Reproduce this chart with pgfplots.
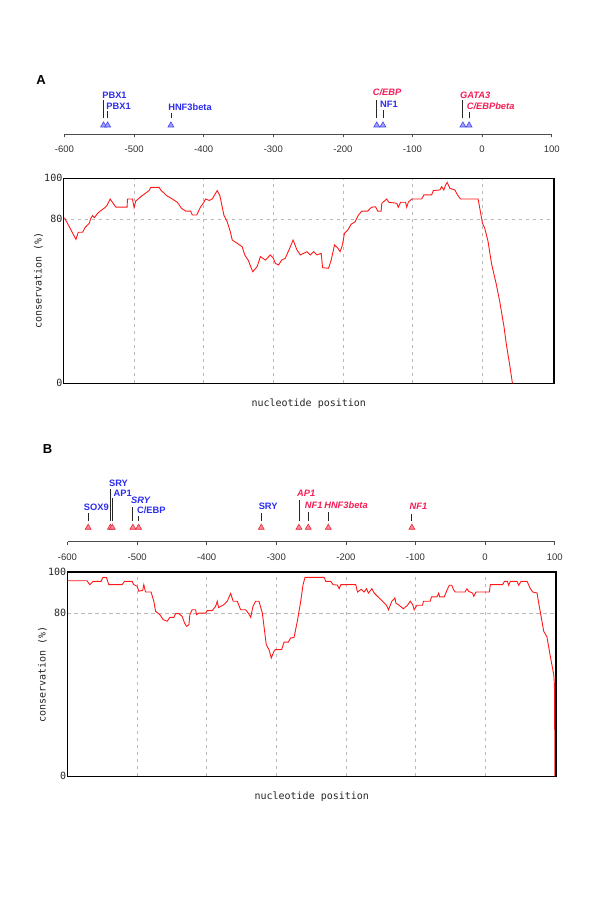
\documentclass[border=0pt]{standalone}
\usepackage{pgfplots}
\pgfplotsset{compat=1.18}
\usepackage{fontspec}
\setmainfont{Liberation Sans}
\newfontfamily\monofont{DejaVu Sans Mono}
\definecolor{ablue}{RGB}{45,45,240}
\definecolor{ared}{RGB}{245,30,85}
\definecolor{tblue}{RGB}{160,160,255}
\definecolor{tbluedraw}{RGB}{70,70,235}
\definecolor{tred}{RGB}{255,140,150}
\definecolor{treddraw}{RGB}{230,40,60}
\definecolor{curve}{RGB}{255,25,25}
\tikzset{lab/.style={anchor=base west, inner sep=0pt, font=\bfseries\fontsize{9.3}{10}\selectfont},
  labi/.style={lab, font=\bfseries\itshape\fontsize{9.3}{10}\selectfont}}
\pgfplotsset{
  annot/.style={x=0.696pt, y=1pt, xmin=-600, xmax=100, ymin=0, ymax=60,
    enlargelimits=false, clip=false, anchor=south west,
    axis x line=bottom, axis y line=none,
    x axis line style={-, black!70, line width=0.9pt},
    xtick={-600,-500,-400,-300,-200,-100,0,100},
    xticklabels={-600,-500,-400,-300,-200,-100,0,100},
    tick align=outside, major tick length=3pt,
    tick style={black!70, line width=0.8pt},
    xticklabel style={font=\fontsize{9.5}{10}\selectfont, text=black!80, yshift=-5.5pt}},
  cons/.style={ymin=0, ymax=100, enlargelimits=false, anchor=south west,
    axis line style={line width=1.5pt, black},
    xtick={-500,-400,-300,-200,-100,0}, xticklabels={},
    ytick={0,80,100}, yticklabels={0,80,100},
    major tick length=0pt, grid=major,
    grid style={gray!55, dash pattern=on 3.5pt off 3.5pt, line width=0.7pt},
    yticklabel style={font=\monofont\fontsize{10}{10}\selectfont, inner sep=1pt, text=black!85},
    xlabel={nucleotide position}, ylabel={conservation (\%)},
    every axis x label/.style={at={(axis description cs:0.5,0)}, anchor=center, yshift=-20.5pt, font=\monofont\fontsize{10}{10}\selectfont, text=black!85},
    every axis y label/.style={at={(axis description cs:-0.051,0.5)}, anchor=center, rotate=90, font=\monofont\fontsize{10}{10}\selectfont, text=black!85}},
  stem/.style={black!85, line width=0.8pt, unbounded coords=jump}
}
\begin{document}
\begin{tikzpicture}[x=1pt,y=1pt]
\path[use as bounding box, fill=white] (0,0) rectangle (600,900);
\node[font=\bfseries\fontsize{13}{13}\selectfont] at (41,820) {A};
\node[font=\bfseries\fontsize{13}{13}\selectfont] at (47.5,451) {B};

% ---------- Panel A: annotations ----------
\begin{axis}[annot, at={(64.5pt,765.7pt)}]
\addplot[stem] coordinates {
(-543.9,16)(-543.9,34.3)(-543.9,nan)
(-538,16)(-538,23.6)(-538,nan)
(-447.1,16)(-447.1,21)(-447.1,nan)
(-151.4,16)(-151.4,34.3)(-151.4,nan)
(-142.5,16)(-142.5,24.3)(-142.5,nan)
(-27.6,16)(-27.6,34.3)(-27.6,nan)
(-18.7,16)(-18.7,22.6)};
\addplot[only marks, mark=triangle*, mark size=3.4pt, mark options={fill=tblue, draw=tbluedraw, line width=0.6pt}]
coordinates {(-543.9,9)(-538,9)(-447.1,9)(-151.4,9)(-142.5,9)(-27.6,9)(-18.7,9)};
\node[lab, text=ablue, xshift=-1.4pt] at (axis cs:-543.9,36) {PBX1};
\node[lab, text=ablue, xshift=-1.4pt] at (axis cs:-538,25) {PBX1};
\node[lab, text=ablue, xshift=-2.8pt] at (axis cs:-447.1,23.6) {HNF3beta};
\node[labi, text=ared, xshift=-4pt] at (axis cs:-151.4,38.3) {C/EBP};
\node[lab, text=ablue, xshift=-3pt] at (axis cs:-142.5,26.6) {NF1};
\node[labi, text=ared, xshift=-3pt] at (axis cs:-27.6,36) {GATA3};
\node[labi, text=ared, xshift=-2.4pt] at (axis cs:-18.7,24.3) {C/EBPbeta};
\end{axis}

% ---------- Panel A: conservation ----------
\begin{axis}[cons, at={(63.5pt,516.7pt)}, x=0.696pt, y=2.05pt, xmin=-601.4, xmax=103.3]
\addplot[curve, line width=0.9pt] coordinates {
(-600,80.8) (-583.5,70.2) (-580.2,73.7) (-573.9,73.7) (-570.6,75.9) (-564.5,78.0) (-562,80.5) (-559.6,81.8) (-557,80.8) (-552.4,82.9) (-548.7,84.0) (-543,85.4) (-539.1,86.6) (-534.4,89.9) (-526.2,85.9) (-510,85.9) (-509.5,89.9) (-502.3,89.9) (-500,85.7) (-497.6,88.9) (-490.4,91.0) (-478.5,94.0) (-476,95.6) (-464,95.6) (-461.7,94.3) (-453,91.5) (-445,89.9) (-437.8,88.3) (-432,85.4) (-426,84.0) (-418.8,84.0) (-416.3,82.1) (-410,82.1) (-404.4,86.1) (-400.6,87.8) (-397.3,89.9) (-392,89.2) (-387.7,89.9) (-380.5,94.0) (-376.7,91.5) (-371,82.1) (-366.2,78.8) (-361.5,73.7) (-359,69.9) (-351.9,68.3) (-344.7,66.6) (-341,62.6) (-336.1,60.1) (-329.5,54.4) (-323.2,56.9) (-318.5,61.8) (-311.3,60.1) (-304.2,62.6) (-300,61.1) (-297,58.5) (-292.3,57.7) (-288,60.1) (-282.7,61.0) (-275.5,66.6) (-271.6,69.9) (-265.9,65.0) (-261.2,62.6) (-251.6,64.2) (-246.8,62.6) (-242.1,64.2) (-237.3,62.6) (-231.1,63.4) (-229.2,56.4) (-220.6,56.1) (-216.8,60.1) (-212,67.5) (-207.2,65.9) (-204,64.2) (-200.6,67.5) (-197.7,73.2) (-192.8,74.8) (-188.1,77.6) (-182.4,78.8) (-177.6,82.1) (-172.8,84.0) (-164.2,84.0) (-158.7,85.9) (-153,86.1) (-149.9,84.0) (-145,84.0) (-144.1,87.8) (-137,89.9) (-134,88.3) (-122.6,87.8) (-120.4,85.9) (-116.9,88.3) (-110,88.3) (-108.3,85.9) (-106,88.3) (-101.1,89.9) (-86.8,89.9) (-83.6,91.9) (-72.5,91.9) (-70.1,94.0) (-60.6,94.3) (-58.1,95.9) (-55,94.3) (-52.4,96.7) (-50.1,98.0) (-46.3,95.1) (-39.1,94.3) (-35.3,91.9) (-31,89.9) (-5.7,89.9) (-3.3,85.4) (0.6,78.0) (3.9,75.6) (8.6,69.1) (13.5,58.5) (20.6,48.0) (25.4,39.8) (31.5,27.6) (35,18.7) (39.7,8.9) (43.6,0)};
\end{axis}

% ---------- Panel B: annotations ----------
\begin{axis}[annot, at={(67.5pt,358.3pt)}]
\addplot[stem] coordinates {
(-570.3,21)(-570.3,28.3)(-570.3,nan)
(-538.4,21)(-538.4,52.3)(-538.4,nan)
(-535.6,21)(-535.6,44)(-535.6,nan)
(-506.1,21)(-506.1,35)(-506.1,nan)
(-497.8,21)(-497.8,25.7)(-497.8,nan)
(-321.6,21)(-321.6,28.3)(-321.6,nan)
(-267.5,21)(-267.5,41.7)(-267.5,nan)
(-254.1,21)(-254.1,30)(-254.1,nan)
(-225.3,21)(-225.3,30)(-225.3,nan)
(-105.2,21)(-105.2,27.7)};
\addplot[only marks, mark=triangle*, mark size=3.4pt, mark options={fill=tred, draw=treddraw, line width=0.6pt}]
coordinates {(-570.3,14.1)(-538.4,14.1)(-535.6,14.1)(-506.1,14.1)(-497.8,14.1)(-321.6,14.1)(-267.5,14.1)(-254.1,14.1)(-225.3,14.1)(-105.2,14.1)};
\node[lab, text=ablue, xshift=-4.4pt] at (axis cs:-570.3,30.7) {SOX9};
\node[lab, text=ablue, xshift=-1.5pt] at (axis cs:-538.4,55) {SRY};
\node[lab, text=ablue, xshift=1.2pt] at (axis cs:-535.6,45.5) {AP1};
\node[labi, text=ablue, xshift=-2pt] at (axis cs:-506.1,37.7) {SRY};
\node[lab, text=ablue, xshift=-1.7pt] at (axis cs:-497.8,28.3) {C/EBP};
\node[lab, text=ablue, xshift=-2.7pt] at (axis cs:-321.6,31.7) {SRY};
\node[labi, text=ared, xshift=-2pt] at (axis cs:-267.5,45) {AP1};
\node[labi, text=ared, xshift=-3.5pt] at (axis cs:-254.1,32.7) {NF1};
\node[labi, text=ared, xshift=-4.2pt] at (axis cs:-225.3,32.7) {HNF3beta};
\node[labi, text=ared, xshift=-2.4pt] at (axis cs:-105.2,31.7) {NF1};
\end{axis}

% ---------- Panel B: conservation ----------
\begin{axis}[cons, at={(67.3pt,123.7pt)}, x=0.696pt, y=2.043pt, xmin=-600.3, xmax=102.2]
\addplot[curve, line width=0.9pt] coordinates {
(-600.3,95.7) (-571.9,95.7) (-568,93.8) (-563.3,95.4) (-551.8,95.4) (-548.9,97.4) (-544,97.3) (-540.7,93.8) (-521.6,93.8) (-518.1,95.4) (-507.2,95.4) (-504.7,93.8) (-500,93) (-497.6,90.6) (-492,91) (-490.4,93.8) (-487.9,90.2) (-479.9,90.2) (-476,85.7) (-473.5,80.8) (-467.3,79.1) (-462.6,76.7) (-456.8,75.9) (-452.9,77.8) (-447.2,77.8) (-444.7,79.6) (-440,79.6) (-435.3,78.3) (-431.8,75.0) (-428.9,73.4) (-425.6,74.2) (-424.2,79.1) (-420.9,81.5) (-416,81.5) (-414.5,79.1) (-411.5,79.9) (-401.6,79.9) (-399.3,81.1) (-392.1,81.1) (-387.2,83.2) (-384.9,85.7) (-383,82.6) (-375.3,84.0) (-370.5,85.7) (-365.6,89.5) (-362,85.7) (-356.1,85.7) (-351.2,81.5) (-344,81.5) (-340.3,79.9) (-336.8,77.8) (-333.5,83.2) (-329.7,85.7) (-324.9,85.7) (-320.1,79.9) (-317.7,73.4) (-314.4,64.4) (-310.5,62.0) (-307.2,57.9) (-303.3,61.2) (-301.4,62.0) (-292.3,62.0) (-288.9,65.7) (-282.7,65.7) (-279.3,67.7) (-274.5,68.0) (-269.8,75.9) (-264.9,85.7) (-261.6,93.8) (-258.7,97.4) (-231.4,97.4) (-228.9,95.4) (-221.7,95.4) (-218.4,93.8) (-212.2,93.6) (-209.8,91.8) (-207.3,93.8) (-185.8,93.8) (-183.4,90.2) (-178,91.5) (-173.8,90.2) (-170.5,91.8) (-167.6,89.7) (-162.7,91.8) (-159.4,89.7) (-154.7,88.1) (-147.5,85.7) (-141.7,83.7) (-138.8,81.5) (-134,85.7) (-129.6,87.3) (-128.2,84.8) (-123.5,83.7) (-117.3,82.0) (-111.5,83.7) (-107.6,85.7) (-104,84) (-101.9,81.5) (-98,83.7) (-90,83.7) (-88.5,85.7) (-78.9,85.7) (-77,87.8) (-69.2,87.8) (-66.7,89.7) (-65.3,87.8) (-58.7,87.8) (-54.5,91.3) (-51.5,93.5) (-48,93.5) (-45.3,91.3) (-42.9,90.2) (-28.9,90.2) (-26.1,91.8) (-23.6,90.5) (-18,89.7) (-16.3,88.1) (-13.1,90.2) (6.1,90.2) (7.5,93.8) (25.2,93.8) (27.6,95.4) (32,95.4) (33.8,93.5) (36.3,95.4) (45.9,95.4) (48.2,93.5) (51.6,95.4) (60.3,95.4) (65.1,91.8) (68.4,90.2) (74.7,89.7) (76.5,85.7) (80.4,78.3) (84.2,71.0) (88.8,68.3) (93.8,58.5) (98.7,49.6) (99.6,44.7) (100,21.8) (100,0)};
\end{axis}
\end{tikzpicture}
\end{document}
